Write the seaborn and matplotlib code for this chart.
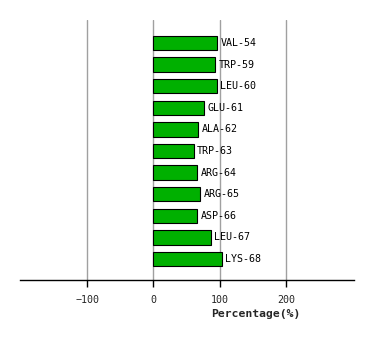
import matplotlib
matplotlib.use("Agg")
import matplotlib.pyplot as plt
import seaborn as sns
import pandas as pd

residues = ["VAL-54", "TRP-59", "LEU-60", "GLU-61", "ALA-62", "TRP-63",
            "ARG-64", "ARG-65", "ASP-66", "LEU-67", "LYS-68"]
percentages = [95.5, 93, 95.5, 76, 67, 60.5, 65.5, 70, 65.5, 86.5, 103]
x_ticks = [-100, 0, 100, 200]

df = pd.DataFrame({"residue": residues, "pct": percentages})

sns.set_style("white")
plt.rcParams["font.family"] = ["DejaVu Sans Mono", "DejaVu Sans"]

fig = plt.figure(figsize=(3.74, 3.40), dpi=100)
ax = fig.add_axes([20/374, 60/340, 334/374, 260/340])

for t in x_ticks:
    ax.axvline(t, color="#a0a0a0", lw=1.0, zorder=0)

sns.barplot(data=df, x="pct", y="residue", orient="h", color="#00b000",
            saturation=1, edgecolor="black", linewidth=0.8, width=0.67, ax=ax, zorder=2)

for i, (r, p) in enumerate(zip(residues, percentages)):
    ax.annotate(r, xy=(p, i), xytext=(2.5, 0), textcoords="offset points",
                ha="left", va="center", fontsize=7.2, color="black")

ax.set_xlim(-201, 302)
ax.set_ylim(10.97, -1.06)
ax.set_xticks(x_ticks)
ax.set_xticklabels([str(t).replace("-", "\u2212") if t < 0 else str(t) for t in x_ticks], fontsize=7.2)
ax.set_yticks([])
ax.set_ylabel("")
ax.set_xlabel("Percentage(%)", fontsize=8.2, fontweight="bold")
ax.xaxis.set_label_coords(0.705, -0.112)
for s in ["top", "right", "left"]:
    ax.spines[s].set_visible(False)
ax.spines["bottom"].set_linewidth(1.0)
ax.spines["bottom"].set_color("black")
ax.tick_params(axis="x", length=5, width=1, color="black", pad=6, direction="out", bottom=True)

fig.savefig("out.png", dpi=100)
